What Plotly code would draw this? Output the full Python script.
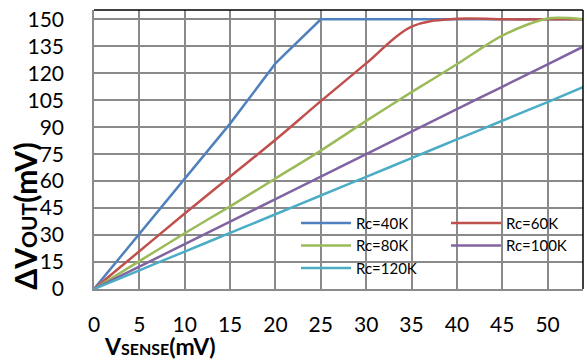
import plotly.graph_objects as go

x_mv = [0, 5, 10, 15, 20, 25, 30, 35, 40, 45, 50, 54]
rc40 = [0, 30.5, 61, 92, 125.5, 150, 150, 150, 150, 150, 150, 150]
rc60 = [0, 21, 42, 62.5, 83, 104.5, 125.5, 146, 150.3, 150, 150, 150]
rc80 = [0, 15.5, 31, 46, 61.5, 77, 93.5, 109.5, 125, 141, 150.5, 150]
rc100 = [0, 12.5, 25, 37.5, 50, 62.5, 75, 87.5, 100, 112.5, 125, 135]
rc120 = [0, 10.4, 20.8, 31.2, 41.6, 52, 62.4, 72.8, 83.2, 93.6, 104, 112.5]
names = ["Rc=40K", "Rc=60K", "Rc=80K", "Rc=100K", "Rc=120K"]
colors = ["#4F81BD", "#C0504D", "#9BBB59", "#8064A2", "#4BACC6"]
series = [rc40, rc60, rc80, rc100, rc120]
legend_of = ["legend", "legend2", "legend", "legend2", "legend"]
shapes_of = ["linear", "spline", "spline", "spline", "spline"]
smooth_of = [0, 1.0, 0.8, 0.5, 0.5]

x_ticks = [0, 5, 10, 15, 20, 25, 30, 35, 40, 45, 50]
y_ticks = [0, 15, 30, 45, 60, 75, 90, 105, 120, 135, 150]

FONT = "Lato"
fig = go.Figure()
for nm, col, ys, lg, sh, sm in zip(names, colors, series, legend_of, shapes_of, smooth_of):
    line = dict(color=col, width=2.5, shape=sh)
    if sh == "spline":
        line["smoothing"] = sm
    fig.add_trace(go.Scatter(x=x_mv, y=ys, name=nm, mode="lines", line=line, legend=lg))

grid = "#8a8a8a"
PL, PR, PT, PB = 94, 583, 10, 289.3
PW, PH = PR - PL, PB - PT
fig.update_layout(
    width=587, height=360,
    margin=dict(l=PL, r=587 - PR, t=PT, b=360 - PB, autoexpand=False),
    paper_bgcolor="white", plot_bgcolor="white",
    font=dict(family=FONT, size=20, color="#000000"),
    showlegend=True,
    legend=dict(x=(296 - PL) / PW, y=(PB - 207) / PH, xanchor="left", yanchor="top",
                bgcolor="rgba(0,0,0,0)", font=dict(size=15, family=FONT),
                itemwidth=50, tracegroupgap=0),
    legend2=dict(x=(446 - PL) / PW, y=(PB - 207) / PH, xanchor="left", yanchor="top",
                 bgcolor="rgba(0,0,0,0)", font=dict(size=15, family=FONT),
                 itemwidth=50, tracegroupgap=0),
    xaxis=dict(range=[0, 53.9], tickvals=x_ticks, ticktext=[str(v) for v in x_ticks],
               showgrid=True, gridcolor=grid, gridwidth=1.6, automargin=False,
               showline=True, linecolor=grid, linewidth=1.6, zeroline=False,
               ticks="", ticklabelstandoff=16, tickfont=dict(size=21)),
    yaxis=dict(range=[0, 155.2], tickvals=y_ticks, ticktext=[str(v) for v in y_ticks],
               showgrid=True, gridcolor=grid, gridwidth=1.6, automargin=False,
               showline=True, linecolor=grid, linewidth=1.6, zeroline=False,
               ticks="", ticklabelstandoff=24, tickfont=dict(size=21)),
    shapes=[
        dict(type="line", xref="paper", yref="paper", x0=0, x1=1, y0=1, y1=1,
             line=dict(color="#000000", width=1.5)),
        dict(type="line", xref="paper", yref="paper", x0=1, x1=1, y0=0, y1=1,
             line=dict(color="#000000", width=1.5)),
    ],
    annotations=[
        dict(text="<b>V<span style='font-size:16px'>SENSE</span>(mV)</b>",
             xref="paper", yref="paper", x=(102 - PL) / PW, y=-(346 - PB) / PH,
             xanchor="left", yanchor="middle", showarrow=False,
             font=dict(size=23, family=FONT)),
        dict(text="<b>ΔV<span style='font-size:21px'>OUT</span>(mV)</b>",
             xref="paper", yref="paper", x=-(PL - 25) / PW, y=(PB - 217) / PH,
             xanchor="center", yanchor="middle", textangle=-90, showarrow=False,
             font=dict(size=30, family=FONT)),
    ],
)
fig.write_html("out.html", config={"displayModeBar": False},
               post_script="document.body.style.margin='0';document.body.style.overflow='hidden';")
